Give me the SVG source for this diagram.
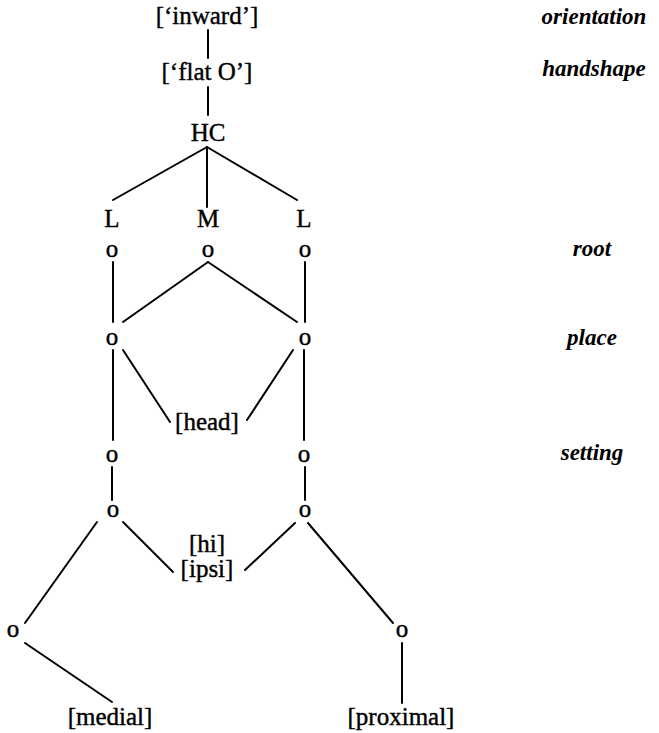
<svg xmlns="http://www.w3.org/2000/svg" width="659" height="733" viewBox="0 0 659 733">
<style>
text{font-family:"Liberation Serif","Times New Roman",serif;font-size:25px;fill:#000;stroke:#000;stroke-width:0.4;text-anchor:middle}
.lab{font-style:italic;font-weight:bold;font-size:23px;stroke-width:0}
#edges line{stroke:#000;stroke-width:2;stroke-linecap:round}
</style>
<rect width="659" height="733" fill="#fff"/>
<g id="edges">
<line x1="208" y1="30" x2="208" y2="58"/>
<line x1="208" y1="87" x2="208" y2="115"/>
<line x1="207" y1="147" x2="113" y2="200"/>
<line x1="207" y1="147" x2="207" y2="207"/>
<line x1="207" y1="147" x2="297" y2="200"/>
<line x1="113" y1="262" x2="113" y2="322"/>
<line x1="208" y1="262" x2="123" y2="322"/>
<line x1="208" y1="262" x2="297" y2="322"/>
<line x1="305" y1="262" x2="305" y2="322"/>
<line x1="123" y1="350" x2="170" y2="422"/>
<line x1="293" y1="350" x2="247" y2="420"/>
<line x1="113" y1="350" x2="113" y2="440"/>
<line x1="304" y1="350" x2="304" y2="440"/>
<line x1="112" y1="467" x2="112" y2="500"/>
<line x1="305" y1="467" x2="305" y2="500"/>
<line x1="97" y1="522" x2="25" y2="623"/>
<line x1="123" y1="522" x2="173" y2="572"/>
<line x1="295" y1="523" x2="245" y2="570"/>
<line x1="308" y1="523" x2="393" y2="623"/>
<line x1="25" y1="643" x2="112" y2="702"/>
<line x1="402" y1="643" x2="402" y2="703"/>
</g>
<g id="n-inward"><text x="207" y="24">[‘inward’]</text></g>
<g id="n-flatO"><text x="207" y="80">[‘flat O’]</text></g>
<g id="n-HC"><text x="208" y="141">HC</text></g>
<g id="n-L1"><text x="112" y="227">L</text></g>
<g id="n-M"><text x="208" y="227">M</text></g>
<g id="n-L2"><text x="304" y="227">L</text></g>
<g id="n-root1"><text x="112" y="257">o</text></g>
<g id="n-root2"><text x="208" y="257">o</text></g>
<g id="n-root3"><text x="305" y="257">o</text></g>
<g id="n-place1"><text x="112" y="345">o</text></g>
<g id="n-place2"><text x="305" y="345">o</text></g>
<g id="n-head"><text x="207" y="430">[head]</text></g>
<g id="n-set1"><text x="112" y="462">o</text></g>
<g id="n-set2"><text x="304" y="462">o</text></g>
<g id="n-s1"><text x="113" y="517">o</text></g>
<g id="n-s2"><text x="305" y="517">o</text></g>
<g id="n-hi"><text x="207" y="552">[hi]</text><text x="207" y="577">[ipsi]</text></g>
<g id="n-b1"><text x="13" y="637">o</text></g>
<g id="n-b2"><text x="402" y="637">o</text></g>
<g id="n-medial"><text x="110" y="725">[medial]</text></g>
<g id="n-proximal"><text x="401" y="725">[proximal]</text></g>
<g id="tier-labels">
<text class="lab" x="594" y="24">orientation</text>
<text class="lab" x="594" y="76">handshape</text>
<text class="lab" x="592" y="256">root</text>
<text class="lab" x="592" y="345">place</text>
<text class="lab" x="592" y="460">setting</text>
</g>
</svg>
